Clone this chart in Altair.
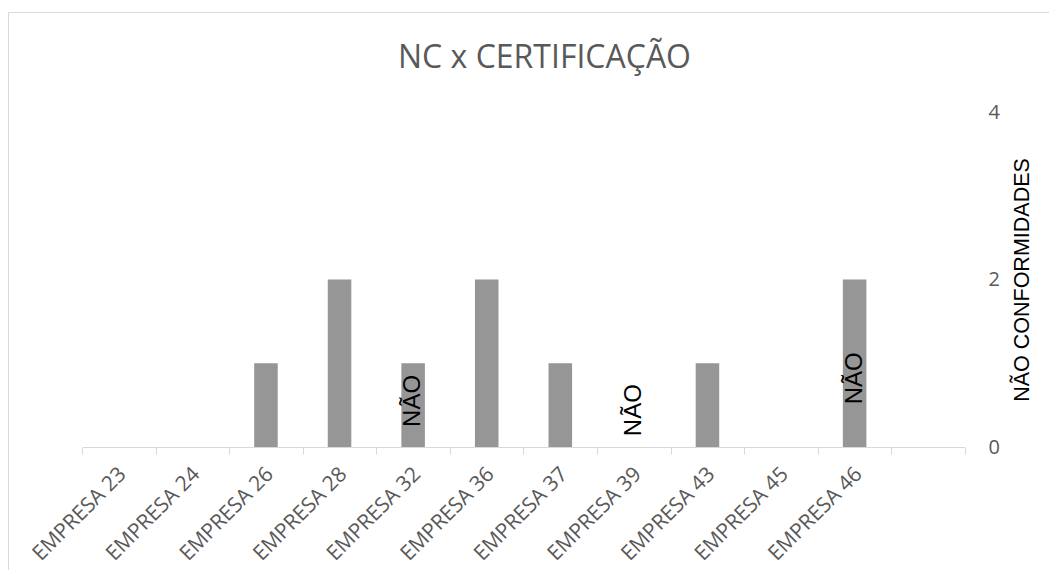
import altair as alt
import pandas as pd

empresas = ["EMPRESA 23", "EMPRESA 24", "EMPRESA 26", "EMPRESA 28", "EMPRESA 32",
            "EMPRESA 36", "EMPRESA 37", "EMPRESA 39", "EMPRESA 43", "EMPRESA 45",
            "EMPRESA 46"]
nao_conformidades = [0, 0, 1, 2, 1, 2, 1, 0, 1, 0, 2]
certificacao = ["", "", "", "", "NÃO", "", "", "NÃO", "", "", "NÃO"]
rotulo_pos = [None, None, None, None, 0.55, None, None, 0.44, None, None, 0.82]
x_domain = empresas + [" "]
y_ticks = [0, 2, 4]

df = pd.DataFrame({"empresa": empresas, "nc": nao_conformidades,
                   "cert": certificacao, "pos": rotulo_pos})

grey_txt = "#595959"
x_scale = alt.Scale(domain=x_domain, paddingInner=0, paddingOuter=0)
y_scale = alt.Scale(domain=[0, 4])
y_title = "NÃO CONFORMIDADES"

x_enc = alt.X(
    "empresa:N",
    scale=x_scale,
    title=None,
    axis=alt.Axis(
        labelAngle=-45, labelFont="Open Sans", labelFontSize=21,
        labelColor=grey_txt, labelOverlap=False, labelPadding=9,
        labelOffset=-4,
        domainColor="#d9d9d9", tickColor="#d9d9d9", tickSize=7,
        tickBand="extent", grid=False,
    ),
)

bars = alt.Chart(df).mark_bar(
    width=alt.RelativeBandSize(0.32), color="#969696"
).encode(
    x=x_enc,
    y=alt.Y(
        "nc:Q",
        scale=y_scale,
        title=y_title,
        axis=alt.Axis(
            orient="right", values=y_ticks, format="d", grid=False,
            domain=False, ticks=False, tickSize=0, labelPadding=23,
            labelFont="Open Sans", labelFontSize=20, labelColor=grey_txt,
            titleFont="Liberation Sans", titleFontSize=21.5,
            titleFontWeight="normal", titleColor="black",
            titleAngle=270, titleBaseline="top", titlePadding=12,
        ),
    ),
)

labels = alt.Chart(df).transform_filter("datum.cert != ''").mark_text(
    angle=270, font="Liberation Sans", fontSize=24, color="black",
    align="center", baseline="middle"
).encode(
    x=alt.X("empresa:N", scale=x_scale, title=None),
    y=alt.Y("pos:Q", scale=y_scale, title=y_title),
    text="cert:N",
)

frame = alt.Chart(alt.Data(values=[{"f": 1}])).mark_rect(
    filled=False, stroke="#d9d9d9", strokeWidth=1
).encode(
    x=alt.value(-73.5), x2=alt.value(2000),
    y=alt.value(-99.5), y2=alt.value(2000),
)

chart = alt.layer(frame, bars, labels).properties(
    width=883, height=335,
    background="white",
    title=alt.Title(
        "NC x CERTIFICAÇÃO", font="Open Sans", fontSize=32,
        fontWeight="normal", color=grey_txt, anchor="middle", dx=21,
        offset=0, dy=63, frame="group",
    ),
    autosize=alt.AutoSizeParams(type="none"),
    padding={"left": 74, "top": 104, "right": 84, "bottom": 123},
).configure_view(stroke=None)

chart.save("out.html", embed_options={"renderer": "svg", "actions": False})
